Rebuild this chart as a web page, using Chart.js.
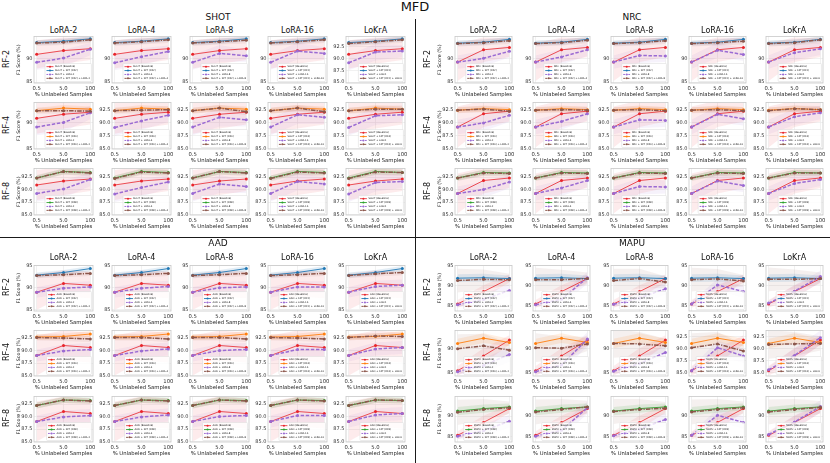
<!DOCTYPE html>
<html><head><meta charset="utf-8">
<script src="https://cdn.jsdelivr.net/npm/chart.js@4.4.1/dist/chart.umd.min.js"></script>
<style>
html,body{margin:0;padding:0;background:#fff;}
#fig{position:relative;width:830px;height:463px;overflow:hidden;font-family:"DejaVu Sans",sans-serif;color:#111;}
canvas{position:absolute;}
.t{position:absolute;white-space:nowrap;transform:translate(-50%,-50%);line-height:1;}
.r{transform:translate(-50%,-50%) rotate(-90deg);}
.sep{position:absolute;background:#1a1a1a;}
</style></head><body><div id="fig"></div>
<script>
// ---------- categories / labels ----------
const methods = ["SHOT", "NRC", "AAD", "MAPU"];
const rfNames = ["RF-2", "RF-4", "RF-8"];
const loraNames = ["LoRA-2", "LoRA-4", "LoRA-8", "LoRA-16", "LoKrA"];
const xTickLabels = ["0.5", "5.0", "100"];

// ---------- SHOT ----------
const shotBaseline = [90.9, 91.7, 92.1];
const shotSft = [[93.4, 93.7, 94.2], [92.4, 92.9, 92.7], [92.3, 93.6, 93.4]];
const shotLora = [[89.2, 90.1, 92.0], [89.1, 90.4, 91.5], [89.2, 91.1, 90.6], [89.2, 91.6, 91.1], [89.1, 91.4, 91.6]];
const shotSftLora = [
  [[93.3, 93.5, 94.0], [93.3, 93.6, 94.0], [93.3, 93.6, 93.9], [93.3, 93.6, 94.0], [93.2, 93.6, 94.0]],
  [[92.4, 92.4, 92.3], [92.4, 92.5, 92.6], [92.4, 92.9, 92.2], [92.4, 92.9, 92.2], [92.4, 92.7, 92.7]],
  [[92.3, 93.6, 93.3], [92.2, 93.5, 93.3], [92.3, 93.6, 93.3], [92.2, 93.5, 93.3], [92.2, 93.5, 93.4]]
];
const shotStd = [[3.0, 2.8, 2.4], [0.5, 0.6, 0.5], [1.6, 1.8, 1.3], [0.6, 0.6, 0.7]];
const shotYRange = [[84.8, 94.7], [84.9, 94.0], [84.9, 94.2]];
const shotYStep = [[5, 5, 5, 5, 2.5], [5, 2.5, 2.5, 2.5, 2.5], [2.5, 2.5, 2.5, 2.5, 2.5]];

// ---------- NRC ----------
const nrcBaseline = [89.2, 91.8, 92.3];
const nrcSft = [[93.2, 93.4, 94.0], [92.5, 92.8, 92.6], [92.3, 93.4, 93.3]];
const nrcLora = [[89.2, 90.0, 91.5], [89.2, 90.3, 91.8], [89.2, 90.6, 90.5], [89.2, 91.7, 90.8], [89.2, 91.2, 92.0]];
const nrcSftLora = [
  [[93.1, 93.3, 93.7], [93.1, 93.3, 93.8], [93.1, 93.3, 93.7], [93.1, 93.3, 93.6], [93.1, 93.3, 93.9]],
  [[92.5, 92.7, 92.3], [92.5, 92.6, 92.5], [92.5, 92.6, 92.4], [92.5, 92.6, 92.4], [92.4, 92.8, 92.6]],
  [[92.3, 93.3, 93.2], [92.3, 93.3, 93.2], [92.3, 93.3, 93.2], [92.3, 93.3, 93.2], [92.3, 93.3, 93.3]]
];
const nrcStd = [[4.0, 2.6, 2.0], [0.5, 0.6, 0.5], [1.4, 1.6, 1.3], [0.6, 0.6, 0.7]];
const nrcYRange = [[84.8, 94.6], [84.9, 94.0], [84.9, 94.2]];
const nrcYStep = [[5, 5, 5, 5, 5], [2.5, 2.5, 2.5, 2.5, 2.5], [2.5, 2.5, 2.5, 2.5, 2.5]];

// ---------- AAD ----------
const aadBaseline = [89.0, 91.0, 90.6];
const aadSft = [[92.9, 93.5, 94.4], [92.7, 92.8, 93.3], [92.2, 93.3, 93.2]];
const aadLora = [[89.0, 89.9, 90.2], [89.0, 89.9, 90.3], [89.0, 90.0, 90.2], [89.0, 90.2, 90.2], [89.0, 90.3, 90.6]];
const aadSftLora = [
  [[92.8, 93.0, 93.3], [92.8, 93.0, 93.3], [92.8, 93.0, 93.3], [92.8, 93.0, 93.3], [92.8, 93.2, 93.5]],
  [[92.6, 92.5, 92.3], [92.6, 92.6, 92.3], [92.6, 92.6, 92.3], [92.6, 92.5, 92.3], [92.6, 92.9, 92.8]],
  [[92.2, 93.3, 93.1], [92.2, 93.3, 93.1], [92.2, 93.3, 93.1], [92.2, 93.3, 93.1], [92.2, 93.3, 93.2]]
];
const aadStd = [[4.0, 3.0, 3.0], [0.6, 0.6, 0.6], [1.2, 1.3, 1.3], [0.6, 0.6, 0.6]];
const aadYRange = [[84.7, 95.1], [84.9, 94.0], [84.9, 94.0]];
const aadYStep = [[5, 5, 5, 5, 5], [2.5, 2.5, 2.5, 2.5, 2.5], [2.5, 2.5, 2.5, 2.5, 2.5]];

// ---------- MAPU ----------
const mapuBaseline = [85.4, 88.5, 91.8];
const mapuSft = [[91.9, 92.0, 91.8], [91.1, 92.2, 91.3], [91.2, 91.8, 92.2]];
const mapuLora = [[85.2, 86.5, 88.8], [85.2, 86.6, 92.0], [85.3, 86.9, 89.2], [85.4, 90.2, 88.5], [85.6, 88.6, 92.3]];
const mapuSftLora = [
  [[91.3, 91.6, 91.5], [91.5, 91.5, 91.8], [91.3, 91.8, 90.9], [91.5, 91.7, 91.2], [91.6, 91.6, 91.8]],
  [[90.0, 90.6, 89.7], [90.2, 90.1, 91.0], [91.1, 91.0, 90.6], [90.2, 91.0, 89.5], [90.9, 91.0, 91.1]],
  [[90.9, 91.6, 92.0], [91.0, 91.6, 92.2], [91.1, 91.6, 91.9], [91.0, 91.6, 92.0], [91.0, 91.6, 92.1]]
];
const mapuStd = [[1.0, 1.6, 1.0], [1.0, 1.0, 0.8], [0.6, 1.5, 1.5], [3.0, 2.5, 1.5]];
const mapuYRange = [[83.6, 95.1], [84.3, 93.8], [83.8, 94.7]];
const mapuYStep = [[5, 5, 5, 5, 5], [5, 5, 5, 2.5, 2.5], [5, 5, 5, 5, 5]];

// ---------- lookup tables built from the arrays ----------
const baselineBy = [shotBaseline, nrcBaseline, aadBaseline, mapuBaseline];
const sftBy = [shotSft, nrcSft, aadSft, mapuSft];
const loraBy = [shotLora, nrcLora, aadLora, mapuLora];
const sftLoraBy = [shotSftLora, nrcSftLora, aadSftLora, mapuSftLora];
const stdBy = [shotStd, nrcStd, aadStd, mapuStd];
const yRangeBy = [shotYRange, nrcYRange, aadYRange, mapuYRange];
const yStepBy = [shotYStep, nrcYStep, aadYStep, mapuYStep];

// ---------- layout & style ----------
const panelLayouts = [
  {colLeft: [34, 112, 190, 268, 346], boxW: 59, rowTop: [34, 100, 166], boxH: 49, title: [218, 16.5], colTitleY: 31},
  {colLeft: [455, 533, 611, 689, 766], boxW: 57, rowTop: [34, 100, 166], boxH: 49, title: [632, 16.5], colTitleY: 31},
  {colLeft: [34, 112, 190, 268, 346], boxW: 59, rowTop: [263, 328, 394], boxH: 48, title: [218, 243], colTitleY: 258},
  {colLeft: [455, 533, 611, 689, 766], boxW: 57, rowTop: [263, 328, 394], boxH: 48, title: [632, 243], colTitleY: 258}
];
const sftColors = ["#1f77b4", "#ff7f0e", "#2ca02c"];
const baseColor = "#e8252b", loraColor = "#9b6bd3", sftLoraColor = "#8c564b";

Chart.defaults.font.family = '"DejaVu Sans", sans-serif';
const fig = document.getElementById("fig");

function rgba(hex, a) {
  const n = parseInt(hex.slice(1), 16);
  return `rgba(${(n >> 16) & 255},${(n >> 8) & 255},${n & 255},${a})`;
}
function addText(txt, x, y, size, rot, extra) {
  const d = document.createElement("div");
  d.className = "t" + (rot ? " r" : "");
  d.textContent = txt;
  d.style.left = x + "px"; d.style.top = y + "px"; d.style.fontSize = size + "px";
  if (extra) Object.assign(d.style, extra);
  fig.appendChild(d);
}
function addSep(x, y, w, h) {
  const d = document.createElement("div");
  d.className = "sep";
  Object.assign(d.style, {left: x + "px", top: y + "px", width: w + "px", height: h + "px"});
  fig.appendChild(d);
}

const framePlugin = {
  id: "frame",
  afterDraw(chart) {
    const {ctx, chartArea: a} = chart;
    ctx.save();
    ctx.strokeStyle = "#c9c9c9"; ctx.lineWidth = 0.8;
    ctx.strokeRect(a.left, a.top, a.width, a.height);
    ctx.restore();
  }
};
const legendPlugin = {
  id: "inLegend",
  afterDatasetsDraw(chart) {
    const {ctx, chartArea: a} = chart;
    const items = chart.data.datasets.filter(d => !d.isBand);
    const fs = 2.5, rowH = 3.9, handle = 7, gap = 1.5, padX = 1.5, padY = 1.2;
    ctx.save();
    ctx.font = fs + 'px "DejaVu Sans"';
    let tw = 0;
    items.forEach(d => { tw = Math.max(tw, ctx.measureText(d.label).width); });
    const w = padX + handle + gap + tw + padX;
    const h = padY * 2 + rowH * items.length;
    const x0 = a.right - 1.5 - w, y0 = a.bottom - 1.5 - h;
    ctx.fillStyle = "rgba(255,255,255,0.8)";
    ctx.strokeStyle = "#d8d8d8"; ctx.lineWidth = 0.5;
    ctx.beginPath();
    if (ctx.roundRect) ctx.roundRect(x0, y0, w, h, 1); else ctx.rect(x0, y0, w, h);
    ctx.fill(); ctx.stroke();
    items.forEach((d, i) => {
      const cy = y0 + padY + rowH * (i + 0.5);
      ctx.strokeStyle = d.borderColor; ctx.lineWidth = Math.min(d.borderWidth, 1);
      ctx.setLineDash((d.borderDash || []).map(v => v * 0.5));
      ctx.beginPath(); ctx.moveTo(x0 + padX, cy); ctx.lineTo(x0 + padX + handle, cy); ctx.stroke();
      ctx.setLineDash([]);
      ctx.fillStyle = d.pointBackgroundColor;
      ctx.beginPath(); ctx.arc(x0 + padX + handle / 2, cy, 1, 0, Math.PI * 2); ctx.fill();
      ctx.fillStyle = "#222"; ctx.textBaseline = "middle"; ctx.textAlign = "left";
      ctx.fillText(d.label, x0 + padX + handle + gap, cy);
    });
    ctx.restore();
  }
};

function pts(vals, std, sign) {
  return vals.map((v, i) => ({x: i, y: v + sign * (std ? std[i] : 0)}));
}

function makeChart(pi, ri, ci) {
  const m = methods[pi], L = panelLayouts[pi];
  const bx = L.colLeft[ci], by = L.rowTop[ri], bw = L.boxW, bh = L.boxH;
  const YW = 20, PT = 2, PR = 8, XH = 18;
  const W = YW + bw + PR, H = PT + bh + XH;
  const cv = document.createElement("canvas");
  cv.width = W; cv.height = H;
  Object.assign(cv.style, {left: (bx - YW) + "px", top: (by - PT) + "px", width: W + "px", height: H + "px"});
  fig.appendChild(cv);

  const rfNum = rfNames[ri].replace("RF-", "");
  const lora = loraNames[ci];
  const std = stdBy[pi];
  const series = [
    {label: `${m} (Baseline)`, vals: baselineBy[pi], std: std[0], color: baseColor, width: 0.8, dash: [], order: 4},
    {label: `${m} + SFT (RF${rfNum})`, vals: sftBy[pi][ri], std: std[1], color: sftColors[ri], width: 0.9, dash: [], order: 3},
    {label: `${m} + ${lora}`, vals: loraBy[pi][ci], std: std[2], color: loraColor, width: 1.5, dash: [3.5, 1.6], order: 2},
    {label: `${m} + SFT (RF${rfNum}) + ${lora}`, vals: sftLoraBy[pi][ri][ci], std: std[3], color: sftLoraColor, width: 1.5, dash: [4.5, 1.2, 1.2, 1.2], order: 1}
  ];
  const bandAlpha = [0.09, 0.12, 0.09, 0.09];
  const datasets = [];
  series.forEach((s, k) => {
    datasets.push({data: pts(s.vals, s.std, 1), isBand: true, borderColor: "transparent", borderWidth: 0, pointRadius: 0, fill: false, order: 10});
    datasets.push({data: pts(s.vals, s.std, -1), isBand: true, borderColor: "transparent", borderWidth: 0, pointRadius: 0,
      fill: "-1", backgroundColor: rgba(s.color, bandAlpha[k]), order: 10});
  });
  series.forEach(s => {
    datasets.push({label: s.label, data: pts(s.vals, null, 0), borderColor: s.color, borderWidth: s.width, borderDash: s.dash,
      pointRadius: 1.5, pointBackgroundColor: s.color, pointBorderWidth: 0, fill: false, order: s.order});
  });

  const [ymin, ymax] = yRangeBy[pi][ri];
  const step = yStepBy[pi][ri][ci];
  const yTicks = [];
  for (let v = Math.ceil(ymin / step) * step; v <= ymax + 1e-9; v += step) yTicks.push(v);
  const fmt = v => step >= 5 ? v.toFixed(0) : v.toFixed(1);

  new Chart(cv, {
    type: "line",
    data: {datasets},
    options: {
      responsive: false, animation: false, devicePixelRatio: 1, events: [],
      layout: {padding: {left: 0, top: PT, right: PR, bottom: 0}},
      plugins: {legend: {display: false}, tooltip: {enabled: false}},
      scales: {
        x: {
          type: "linear", min: -0.1, max: 2.1,
          afterFit: s => { s.height = XH; },
          afterBuildTicks: s => { s.ticks = xTickLabels.map((_, i) => ({value: i})); },
          ticks: {callback: v => xTickLabels[v], font: {size: 5.3}, color: "#333", padding: 2, maxRotation: 0, autoSkip: false},
          grid: {color: "#e8e8e8", lineWidth: 0.6, drawTicks: false},
          border: {display: false},
          title: {display: true, text: "% Unlabeled Samples", font: {size: 5.3}, color: "#222", padding: {top: 0, bottom: 2.8}}
        },
        y: {
          type: "linear", min: ymin, max: ymax,
          afterFit: s => { s.width = YW; },
          afterBuildTicks: s => { s.ticks = yTicks.map(v => ({value: v})); },
          ticks: {callback: v => fmt(v), font: {size: 5}, color: "#333", padding: 1.5, autoSkip: false},
          grid: {color: "#e8e8e8", lineWidth: 0.6, drawTicks: false},
          border: {display: false},
          title: {display: ci === 0, text: "F1 Score (%)", font: {size: 4.8}, color: "#222", padding: {top: 1.5, bottom: 0}}
        }
      }
    },
    plugins: [legendPlugin, framePlugin]
  });
}

// ---------- figure texts & separators ----------
addText("MFD", 415, 6, 13);
addSep(414.5, 19, 1.3, 444);
addSep(0, 236.5, 830, 1.3);

methods.forEach((m, pi) => {
  const L = panelLayouts[pi];
  addText(m, L.title[0], L.title[1], 9);
  loraNames.forEach((ln, ci) => addText(ln, L.colLeft[ci] + L.boxW / 2, L.colTitleY, 8));
  rfNames.forEach((rn, ri) => addText(rn, L.colLeft[0] - 27, L.rowTop[ri] + L.boxH / 2, 8, true));
  for (let ri = 0; ri < 3; ri++) for (let ci = 0; ci < 5; ci++) makeChart(pi, ri, ci);
});
</script></body></html>
